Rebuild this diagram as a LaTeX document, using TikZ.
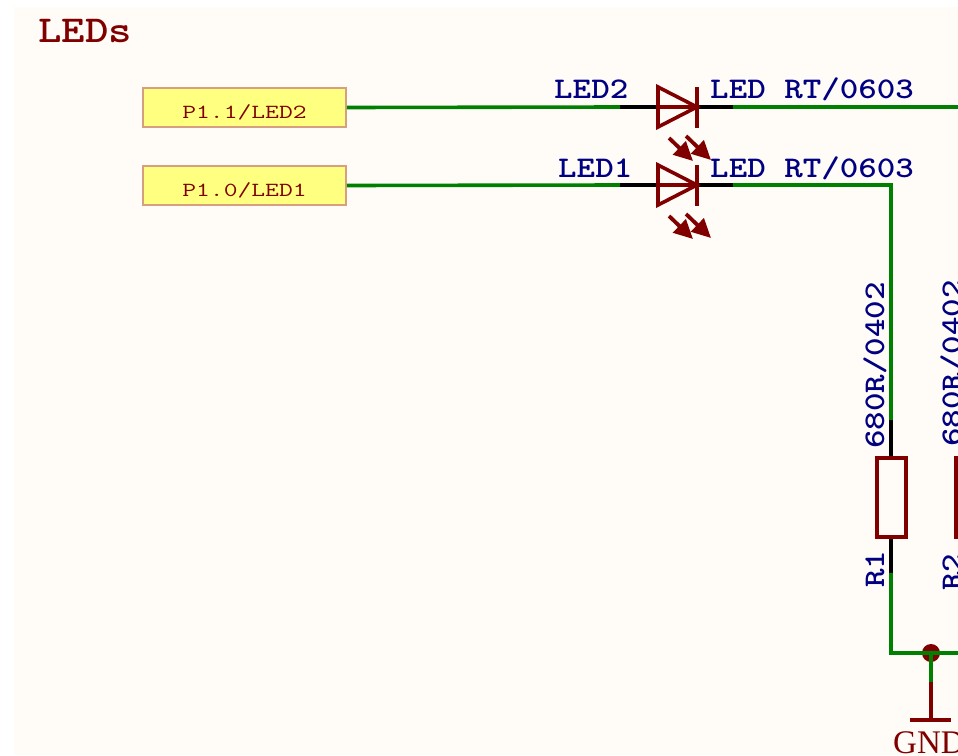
\documentclass[tikz,border=0pt]{standalone}
\usepackage{fontspec}
\usetikzlibrary{arrows.meta}
\newfontfamily\gndfont{Liberation Serif}
\definecolor{sheet}{HTML}{FFFCF8}
\definecolor{symred}{HTML}{800000}
\definecolor{wiregreen}{HTML}{008000}
\definecolor{textblue}{HTML}{000080}
\definecolor{portfill}{HTML}{FFFF80}
\definecolor{portline}{HTML}{D6A080}
\tikzset{
  wire/.style={wiregreen,line width=3.6pt},
  pinline/.style={black,line width=3.6pt},
  symline/.style={symred,line width=3.6pt},
  lightarrow/.style={symred,line width=3.8pt,-{Triangle[length=19pt,width=18pt]}},
  port/.style={draw=portline,fill=portfill,line width=1.5pt,minimum width=203pt,minimum height=39pt,inner sep=0pt,
    text height=21pt,text depth=0pt,text=symred,font=\fontsize{20}{20}\ttfamily},
  partlabel/.style={text=textblue,inner sep=0pt,transform shape,xscale=1.175,
    font=\fontsize{30}{30}\ttfamily\bfseries},
  vertlabel/.style={text=textblue,inner sep=0pt,transform shape,rotate=90,xscale=1.175,
    font=\fontsize{30}{30}\ttfamily\bfseries,anchor=base west}
}
\begin{document}
\begin{tikzpicture}[x=1pt,y=-1pt]
  \useasboundingbox (0,0) rectangle (958,755);
  \clip (0,0) rectangle (958,755);
  \fill[sheet] (14,7) rectangle (958,755);
  \node[text=symred,inner sep=0pt,anchor=base west,transform shape,xscale=1.175,font=\fontsize{38}{38}\ttfamily\bfseries] (title) at (38,42) {LEDs};

  \node[port] (p2) at (244.5,107.5) {\scalebox{1.34}[1]{P1.1/LED2}};
  \node[port] (p1) at (244.5,185.5) {\scalebox{1.34}[1]{P1.0/LED1}};

  % pins
  \coordinate (d2a) at (620,107);
  \coordinate (d2l) at (658,107);
  \coordinate (d2k) at (697,107);
  \coordinate (d2c) at (733,107);
  \coordinate (d1a) at (620,185);
  \coordinate (d1l) at (658,185);
  \coordinate (d1k) at (697,185);
  \coordinate (d1c) at (733,185);
  \coordinate (out2) at (958,107);
  \coordinate (bend) at (891,185);
  \coordinate (r1t) at (891,420);
  \coordinate (r1a) at (891,458);
  \coordinate (r1b) at (891,537);
  \coordinate (r1c) at (891,573);
  \coordinate (bend2) at (891,653);
  \coordinate (out1) at (958,653);
  \node[circle,fill=symred,inner sep=0pt,minimum size=18pt] (j) at (931,653) {};
  \coordinate (g1) at (931,682);
  \coordinate (g2) at (931,720);

  % wires
  \draw[wire] (p2.east) -- (d2a);
  \draw[wire] (d2c) -- (out2);
  \draw[wire] (p1.east) -- (d1a);
  \draw[wire,line join=miter] (d1c) -- (bend) -- (r1t);
  \draw[wire,line join=miter] (r1c) -- (bend2) -- (out1);
  \draw[symline] (g1) -- (g2);
  \draw[wire] (j.center) -- (g1);
  \draw[pinline] (d2a) -- (d2l);
  \draw[pinline] (d2k) -- (d2c);
  \draw[pinline] (d1a) -- (d1l);
  \draw[pinline] (d1k) -- (d1c);
  \draw[pinline] (r1t) -- (r1a);
  \draw[pinline] (r1b) -- (r1c);

  % LED2
  \draw[symline,line join=miter] (658,87) -- (d2k) -- (658,127) -- cycle;
  \draw[symline] (d2l) -- (d2k);
  \draw[symline] (697,87) -- (697,128);
  \draw[lightarrow] (669,138) -- (693,161);
  \draw[lightarrow] (686,136) -- (711,160);
  % LED1
  \draw[symline,line join=miter] (658,165) -- (d1k) -- (658,205) -- cycle;
  \draw[symline] (d1l) -- (d1k);
  \draw[symline] (697,165) -- (697,206);
  \draw[lightarrow] (669,216) -- (693,239);
  \draw[lightarrow] (686,214) -- (711,238);

  % R1, R2
  \draw[symline] (877,458) rectangle (906,537);
  \draw[symline] (956,458) rectangle (985,537);
  % GND
  \draw[symline] (910,720) -- (951,720);
  \node[text=symred,inner sep=0pt,anchor=base west,font=\fontsize{33}{33}\gndfont] (gnd) at (893,753) {GND};

  \node[partlabel,anchor=base west] (led2) at (554,98) {LED2};
  \node[partlabel,anchor=base west] (led1) at (558,177) {LED1};
  \node[partlabel,anchor=base west] (val2) at (710,98) {LED RT/0603};
  \node[partlabel,anchor=base west] (val1) at (710,177) {LED RT/0603};
  \node[vertlabel] (r1v) at (884,449) {680R/0402};
  \node[vertlabel] (r2v) at (961,447) {680R/0402};
  \node[vertlabel] (r1n) at (884,588) {R1};
  \node[vertlabel] (r2n) at (961,591) {R2};
\end{tikzpicture}
\end{document}
